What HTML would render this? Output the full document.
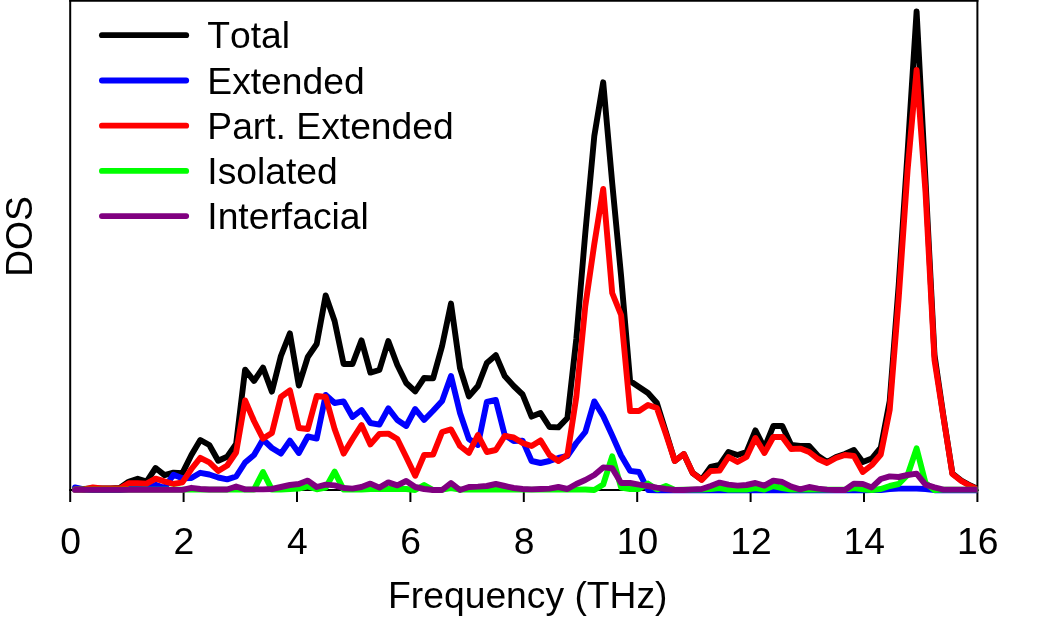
<!DOCTYPE html>
<html><head><meta charset="utf-8"><title>DOS</title>
<style>
html,body{margin:0;padding:0;background:#fff;}
body{width:1050px;height:617px;overflow:hidden;}
svg{display:block;}
text{font-family:"Liberation Sans",Arial,Helvetica,sans-serif;font-size:37.25px;fill:#000;font-kerning:none;}
</style></head><body>
<svg width="1050" height="617" viewBox="0 0 1050 617">
<rect x="0" y="0" width="1050" height="617" fill="#fff"/>
<defs><clipPath id="clip"><rect x="70.2" y="0" width="907.1999999999999" height="495"/></clipPath></defs>
<g stroke="#000" stroke-width="2" fill="none">
<line x1="70.2" y1="0" x2="70.2" y2="491"/>
<line x1="977.4" y1="0" x2="977.4" y2="491"/>
<line x1="69.2" y1="0.8" x2="978.4" y2="0.8"/>
<line x1="69.2" y1="490.1" x2="978.4" y2="490.1"/>
<line x1="70.2" y1="490" x2="70.2" y2="502"/><line x1="183.6" y1="490" x2="183.6" y2="502"/><line x1="297.0" y1="490" x2="297.0" y2="502"/><line x1="410.4" y1="490" x2="410.4" y2="502"/><line x1="523.8" y1="490" x2="523.8" y2="502"/><line x1="637.2" y1="490" x2="637.2" y2="502"/><line x1="750.6" y1="490" x2="750.6" y2="502"/><line x1="864.0" y1="490" x2="864.0" y2="502"/><line x1="977.4" y1="490" x2="977.4" y2="502"/>
</g>
<g clip-path="url(#clip)" fill="none" stroke-width="5.9" stroke-linejoin="round" stroke-linecap="round">
<polyline stroke="#000000" points="75.0,489.0 83.9,489.0 92.9,488.5 101.8,488.5 110.8,488.5 119.7,488.0 128.7,481.8 137.7,478.7 146.6,481.6 155.6,468.0 164.5,475.1 173.5,472.7 182.4,473.1 191.4,455.0 200.3,440.0 209.3,445.0 218.2,460.8 227.2,456.7 236.1,444.0 245.1,369.6 254.0,381.0 263.0,367.6 271.9,391.6 280.9,356.0 289.9,333.4 298.8,385.6 307.8,357.0 316.7,344.0 325.7,295.4 334.6,321.0 343.6,364.0 352.5,364.0 361.5,340.4 370.4,372.6 379.4,370.0 388.3,341.0 397.3,365.0 406.2,383.0 415.2,391.4 424.1,378.0 433.1,378.4 442.1,346.0 451.0,303.6 460.0,368.0 468.9,396.4 477.9,386.0 486.8,363.0 495.8,355.2 504.7,376.0 513.7,386.0 522.6,394.5 531.6,416.6 540.5,413.0 549.5,427.0 558.4,427.4 567.4,418.0 576.3,339.0 585.3,233.0 594.3,136.0 603.2,82.3 612.2,183.0 621.1,276.0 630.1,381.0 639.0,387.0 648.0,393.0 656.9,403.0 665.9,432.0 674.8,461.0 683.8,454.0 692.7,473.0 701.7,479.5 710.6,467.0 719.6,465.0 728.5,452.0 737.5,455.0 746.5,452.0 755.4,430.4 764.4,448.0 773.3,426.0 782.3,426.0 791.2,445.0 800.2,446.0 809.1,446.0 818.1,456.0 827.0,462.0 836.0,457.0 844.9,454.0 853.9,450.0 862.8,462.0 871.8,458.5 880.8,447.5 889.7,401.0 898.7,285.0 907.6,152.0 916.6,11.5 925.5,180.0 934.5,355.0 943.4,416.0 952.4,473.5 961.3,480.5 970.3,485.5 979.2,489.5"/>
<polyline stroke="#0000ff" points="75.0,487.5 83.9,489.5 92.9,490.0 101.8,490.0 110.8,490.0 119.7,490.0 128.7,489.0 137.7,487.6 146.6,489.0 155.6,484.8 164.5,488.0 173.5,474.7 182.4,478.3 191.4,478.0 200.3,472.8 209.3,474.5 218.2,477.5 227.2,479.4 236.1,476.5 245.1,462.5 254.0,455.0 263.0,439.5 271.9,448.0 280.9,453.6 289.9,440.6 298.8,453.0 307.8,436.5 316.7,438.5 325.7,395.0 334.6,403.0 343.6,401.4 352.5,417.0 361.5,410.0 370.4,423.0 379.4,424.6 388.3,408.4 397.3,420.0 406.2,426.0 415.2,409.0 424.1,420.0 433.1,410.8 442.1,401.0 451.0,376.0 460.0,413.0 468.9,439.0 477.9,445.0 486.8,402.0 495.8,400.0 504.7,435.0 513.7,441.0 522.6,440.6 531.6,461.0 540.5,463.0 549.5,461.0 558.4,458.0 567.4,456.0 576.3,443.0 585.3,432.0 594.3,401.4 603.2,416.0 612.2,435.5 621.1,455.5 630.1,470.8 639.0,472.0 648.0,490.0 656.9,490.2 665.9,490.2 674.8,490.2 683.8,490.2 692.7,490.2 701.7,490.2 710.6,490.2 719.6,490.2 728.5,490.2 737.5,490.2 746.5,490.2 755.4,490.2 764.4,490.2 773.3,490.2 782.3,490.2 791.2,490.2 800.2,490.2 809.1,490.2 818.1,490.2 827.0,490.2 836.0,490.2 844.9,490.2 853.9,490.2 862.8,490.2 871.8,490.0 880.8,490.0 889.7,489.0 898.7,488.6 907.6,488.6 916.6,488.6 925.5,489.0 934.5,490.2 943.4,490.2 952.4,490.2 961.3,490.2 970.3,490.2 979.2,490.2"/>
<polyline stroke="#ff0000" points="75.0,489.5 83.9,489.5 92.9,487.5 101.8,488.5 110.8,488.5 119.7,488.5 128.7,483.2 137.7,483.2 146.6,483.6 155.6,478.6 164.5,481.4 173.5,484.0 182.4,482.4 191.4,469.0 200.3,457.9 209.3,462.4 218.2,471.0 227.2,465.5 236.1,452.5 245.1,400.4 254.0,421.0 263.0,438.6 271.9,433.0 280.9,397.0 289.9,390.4 298.8,428.0 307.8,429.0 316.7,396.0 325.7,397.0 334.6,429.0 343.6,453.6 352.5,439.0 361.5,425.0 370.4,444.4 379.4,434.0 388.3,433.6 397.3,439.0 406.2,457.0 415.2,475.8 424.1,455.0 433.1,454.6 442.1,432.0 451.0,429.4 460.0,446.0 468.9,453.0 477.9,435.0 486.8,452.0 495.8,450.0 504.7,436.0 513.7,437.4 522.6,443.0 531.6,446.0 540.5,440.4 549.5,455.0 558.4,461.0 567.4,455.0 576.3,397.0 585.3,306.0 594.3,244.0 603.2,189.0 612.2,293.0 621.1,315.0 630.1,411.0 639.0,411.0 648.0,405.0 656.9,408.0 665.9,434.0 674.8,461.0 683.8,454.0 692.7,473.0 701.7,480.0 710.6,471.0 719.6,470.6 728.5,457.0 737.5,462.0 746.5,457.0 755.4,438.0 764.4,453.0 773.3,437.0 782.3,437.0 791.2,449.0 800.2,448.6 809.1,452.0 818.1,459.0 827.0,463.0 836.0,458.0 844.9,455.0 853.9,456.0 862.8,472.0 871.8,465.0 880.8,454.5 889.7,410.0 898.7,298.0 907.6,170.0 916.6,70.0 925.5,192.0 934.5,360.0 943.4,417.0 952.4,474.0 961.3,481.0 970.3,486.0 979.2,490.0"/>
<polyline stroke="#00ff00" points="75.0,489.6 83.9,489.6 92.9,489.6 101.8,489.6 110.8,489.6 119.7,489.6 128.7,489.6 137.7,489.6 146.6,489.6 155.6,489.6 164.5,489.6 173.5,489.6 182.4,489.6 191.4,489.6 200.3,489.6 209.3,489.6 218.2,489.6 227.2,489.6 236.1,489.6 245.1,489.6 254.0,489.6 263.0,472.0 271.9,489.6 280.9,489.6 289.9,489.0 298.8,488.6 307.8,486.5 316.7,489.3 325.7,487.6 334.6,471.6 343.6,489.6 352.5,489.6 361.5,489.6 370.4,489.0 379.4,489.0 388.3,489.0 397.3,489.0 406.2,489.0 415.2,490.0 424.1,485.0 433.1,490.0 442.1,489.6 451.0,488.0 460.0,489.6 468.9,489.6 477.9,489.6 486.8,489.6 495.8,489.6 504.7,489.6 513.7,489.6 522.6,489.6 531.6,489.6 540.5,489.6 549.5,489.6 558.4,489.6 567.4,489.6 576.3,489.6 585.3,489.5 594.3,490.0 603.2,484.5 612.2,456.4 621.1,487.5 630.1,489.0 639.0,489.0 648.0,483.6 656.9,489.4 665.9,486.0 674.8,490.0 683.8,489.6 692.7,489.6 701.7,489.6 710.6,489.0 719.6,488.0 728.5,489.6 737.5,489.6 746.5,489.5 755.4,488.0 764.4,489.6 773.3,486.0 782.3,488.0 791.2,489.6 800.2,489.6 809.1,489.6 818.1,489.6 827.0,489.6 836.0,489.6 844.9,489.6 853.9,488.0 862.8,489.4 871.8,490.1 880.8,489.0 889.7,486.0 898.7,484.0 907.6,475.0 916.6,448.4 925.5,483.0 934.5,490.1 943.4,489.6 952.4,489.6 961.3,489.6 970.3,489.6 979.2,489.6"/>
<polyline stroke="#800080" points="75.0,489.9 83.9,489.9 92.9,489.9 101.8,489.9 110.8,489.9 119.7,489.9 128.7,489.9 137.7,489.9 146.6,489.9 155.6,489.9 164.5,489.9 173.5,489.9 182.4,489.9 191.4,487.8 200.3,489.0 209.3,489.5 218.2,489.5 227.2,489.5 236.1,486.5 245.1,489.4 254.0,489.4 263.0,489.4 271.9,489.0 280.9,487.0 289.9,485.0 298.8,484.0 307.8,480.6 316.7,487.0 325.7,484.6 334.6,485.4 343.6,488.0 352.5,488.6 361.5,487.0 370.4,483.6 379.4,487.6 388.3,482.4 397.3,485.4 406.2,481.0 415.2,487.0 424.1,489.0 433.1,490.0 442.1,490.0 451.0,483.0 460.0,490.0 468.9,487.0 477.9,486.6 486.8,486.0 495.8,484.0 504.7,486.0 513.7,488.0 522.6,489.0 531.6,489.4 540.5,489.0 549.5,488.6 558.4,487.0 567.4,489.0 576.3,484.0 585.3,480.0 594.3,475.0 603.2,467.4 612.2,468.3 621.1,483.0 630.1,483.0 639.0,484.6 648.0,486.0 656.9,487.6 665.9,489.0 674.8,490.0 683.8,490.0 692.7,489.4 701.7,489.0 710.6,486.0 719.6,482.6 728.5,484.6 737.5,485.6 746.5,485.0 755.4,483.0 764.4,485.6 773.3,480.6 782.3,482.0 791.2,486.6 800.2,489.4 809.1,487.0 818.1,488.6 827.0,489.6 836.0,490.0 844.9,490.0 853.9,483.6 862.8,484.0 871.8,487.4 880.8,479.0 889.7,476.4 898.7,477.0 907.6,475.0 916.6,473.6 925.5,484.6 934.5,487.4 943.4,489.6 952.4,489.6 961.3,489.6 970.3,489.6 979.2,489.6"/>
</g>
<g><line x1="101.9" y1="35.2" x2="186.2" y2="35.2" stroke="#000" stroke-width="5.8" stroke-linecap="round"/><text x="207.3" y="48.2">Total</text><line x1="101.9" y1="80.5" x2="186.2" y2="80.5" stroke="#0000ff" stroke-width="5.8" stroke-linecap="round"/><text x="207.3" y="93.5">Extended</text><line x1="101.9" y1="125.7" x2="186.2" y2="125.7" stroke="#ff0000" stroke-width="5.8" stroke-linecap="round"/><text x="207.3" y="138.7">Part. Extended</text><line x1="101.9" y1="170.9" x2="186.2" y2="170.9" stroke="#00ff00" stroke-width="5.8" stroke-linecap="round"/><text x="207.3" y="183.9">Isolated</text><line x1="101.9" y1="216.1" x2="186.2" y2="216.1" stroke="#800080" stroke-width="5.8" stroke-linecap="round"/><text x="207.3" y="229.1">Interfacial</text></g>
<g><text x="70.5" y="554" text-anchor="middle">0</text><text x="183.9" y="554" text-anchor="middle">2</text><text x="297.3" y="554" text-anchor="middle">4</text><text x="410.7" y="554" text-anchor="middle">6</text><text x="524.1" y="554" text-anchor="middle">8</text><text x="637.5" y="554" text-anchor="middle">10</text><text x="750.9" y="554" text-anchor="middle">12</text><text x="864.3" y="554" text-anchor="middle">14</text><text x="977.7" y="554" text-anchor="middle">16</text></g>
<text x="527.8" y="607.6" text-anchor="middle">Frequency (THz)</text>
<text transform="translate(32.3,236.5) rotate(-90)" text-anchor="middle">DOS</text>
</svg>
</body></html>
